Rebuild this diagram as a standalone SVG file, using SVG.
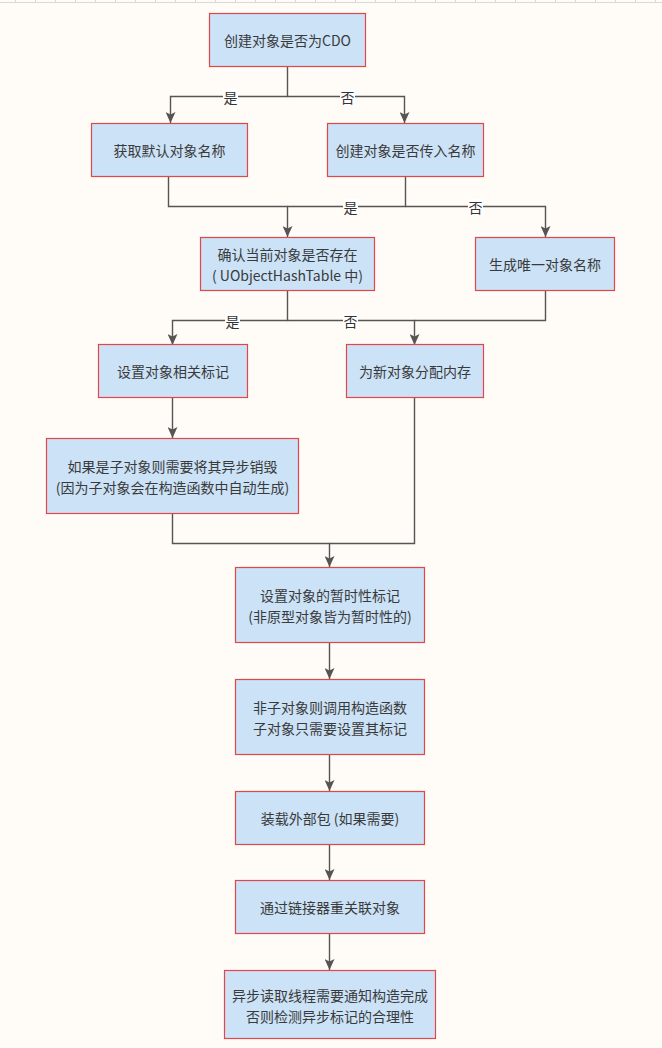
<svg xmlns="http://www.w3.org/2000/svg" width="662" height="1048" viewBox="0 0 662 1048">
  <style>
    .node rect { fill: #cbe2f7; stroke: #e2454b; stroke-width: 1.2; }
    .node text { font-family: "Microsoft YaHei", "Noto Sans CJK SC", "Liberation Sans", sans-serif; font-size: 14px; fill: #3a3a3a; text-anchor: middle; dominant-baseline: central; }
    .edge { fill: none; stroke: #555555; stroke-width: 1.4; }
    .lbl rect { fill: #ffffff; }
    .lbl text { font-family: "Noto Sans CJK SC", "Liberation Sans", sans-serif; font-size: 14px; fill: #333333; text-anchor: middle; dominant-baseline: central; }
    .ruler { stroke: #d9d9d9; stroke-width: 1; }
  </style>
  <defs>
    <marker id="arrow" markerUnits="userSpaceOnUse" markerWidth="12" markerHeight="10" viewBox="0 0 12 10" refX="11" refY="5" orient="auto">
      <path d="M0,0 L11,5 L0,10 L2.5,5 Z" fill="#555555"/>
    </marker>
  </defs>

  <!-- page background -->
  <rect x="0" y="0" width="662" height="1048" fill="#fffcf7"/>

  <!-- top ruler -->
  <g id="ruler">
    <line class="ruler" x1="0" y1="2.5" x2="662" y2="2.5"/>
    <path class="ruler" d="M15.5,0V2 M35.5,0V2 M55.5,0V2 M75.5,0V2 M95.5,0V2 M115.5,0V2 M135.5,0V2 M155.5,0V2 M175.5,0V2 M195.5,0V2 M215.5,0V2 M235.5,0V2 M255.5,0V2 M275.5,0V2 M295.5,0V2 M315.5,0V2 M335.5,0V2 M355.5,0V2 M375.5,0V2 M395.5,0V2 M415.5,0V2 M435.5,0V2 M455.5,0V2 M475.5,0V2 M495.5,0V2 M515.5,0V2 M535.5,0V2 M555.5,0V2 M575.5,0V2 M595.5,0V2 M615.5,0V2 M635.5,0V2 M655.5,0V2"/>
  </g>

  <!-- connectors -->
  <g id="connectors">
    <path class="edge" d="M287.5,66 V96.5 H170.5 V123" marker-end="url(#arrow)"/>
    <path class="edge" d="M287.5,96.5 H404.5 V123" marker-end="url(#arrow)"/>
    <path class="edge" d="M168.5,176 V206.5 H287.5 V237" marker-end="url(#arrow)"/>
    <path class="edge" d="M405.5,176 V206.5 H287.5"/>
    <path class="edge" d="M405.5,206.5 H545.5 V237" marker-end="url(#arrow)"/>
    <path class="edge" d="M287.5,290 V320.5 H172.5 V345" marker-end="url(#arrow)"/>
    <path class="edge" d="M287.5,320.5 H414.5 V345" marker-end="url(#arrow)"/>
    <path class="edge" d="M545.5,290 V320.5 H414.5"/>
    <path class="edge" d="M172.5,397 V438" marker-end="url(#arrow)"/>
    <path class="edge" d="M172.5,513 V543.5 H329.5 V567" marker-end="url(#arrow)"/>
    <path class="edge" d="M414.5,397 V543.5 H329.5"/>
    <path class="edge" d="M329.5,642 V679" marker-end="url(#arrow)"/>
    <path class="edge" d="M329.5,754 V791" marker-end="url(#arrow)"/>
    <path class="edge" d="M329.5,844 V880" marker-end="url(#arrow)"/>
    <path class="edge" d="M329.5,933 V970" marker-end="url(#arrow)"/>

    <g class="lbl">
      <rect x="223" y="89" width="15" height="15"/><text x="230.5" y="96.5">是</text>
      <rect x="340" y="89" width="15" height="15"/><text x="347.5" y="96.5">否</text>
      <rect x="343" y="199" width="15" height="15"/><text x="350.5" y="206.5">是</text>
      <rect x="468" y="199" width="15" height="15"/><text x="475.5" y="206.5">否</text>
      <rect x="225" y="313" width="15" height="15"/><text x="232.5" y="320.5">是</text>
      <rect x="343" y="313" width="15" height="15"/><text x="350.5" y="320.5">否</text>
    </g>
  </g>

  <!-- nodes -->
  <g id="n-cdo" class="node">
    <rect x="209.5" y="13.5" width="156" height="53"/>
    <text x="287.5" y="40">创建对象是否为CDO</text>
  </g>
  <g id="n-default-name" class="node">
    <rect x="91.5" y="123.5" width="156" height="53"/>
    <text x="169.5" y="150">获取默认对象名称</text>
  </g>
  <g id="n-name-passed" class="node">
    <rect x="327.5" y="123.5" width="156" height="53"/>
    <text x="405.5" y="150">创建对象是否传入名称</text>
  </g>
  <g id="n-exists" class="node">
    <rect x="200.5" y="237.5" width="174" height="53"/>
    <text x="287.5" y="254">确认当前对象是否存在</text>
    <text x="287.5" y="274.5">( UObjectHashTable 中)</text>
  </g>
  <g id="n-unique-name" class="node">
    <rect x="475.5" y="237.5" width="139" height="53"/>
    <text x="545" y="264">生成唯一对象名称</text>
  </g>
  <g id="n-set-flags" class="node">
    <rect x="98.5" y="344.5" width="149" height="53"/>
    <text x="173" y="371">设置对象相关标记</text>
  </g>
  <g id="n-alloc" class="node">
    <rect x="346.5" y="344.5" width="137" height="53"/>
    <text x="415" y="371">为新对象分配内存</text>
  </g>
  <g id="n-subobject" class="node">
    <rect x="46.5" y="438.5" width="252" height="75"/>
    <text x="172.5" y="465.5">如果是子对象则需要将其异步销毁</text>
    <text x="172.5" y="487">(因为子对象会在构造函数中自动生成)</text>
  </g>
  <g id="n-transient" class="node">
    <rect x="235.5" y="567.5" width="189" height="75"/>
    <text x="330" y="594.5">设置对象的暂时性标记</text>
    <text x="330" y="616">(非原型对象皆为暂时性的)</text>
  </g>
  <g id="n-ctor" class="node">
    <rect x="235.5" y="679.5" width="189" height="75"/>
    <text x="330" y="706.5">非子对象则调用构造函数</text>
    <text x="330" y="728">子对象只需要设置其标记</text>
  </g>
  <g id="n-load-package" class="node">
    <rect x="235.5" y="791.5" width="189" height="53"/>
    <text x="330" y="818">装载外部包 (如果需要)</text>
  </g>
  <g id="n-linker" class="node">
    <rect x="235.5" y="880.5" width="189" height="53"/>
    <text x="330" y="907">通过链接器重关联对象</text>
  </g>
  <g id="n-async" class="node">
    <rect x="224.5" y="970.5" width="211" height="68"/>
    <text x="330" y="994.5">异步读取线程需要通知构造完成</text>
    <text x="330" y="1016">否则检测异步标记的合理性</text>
  </g>
</svg>
